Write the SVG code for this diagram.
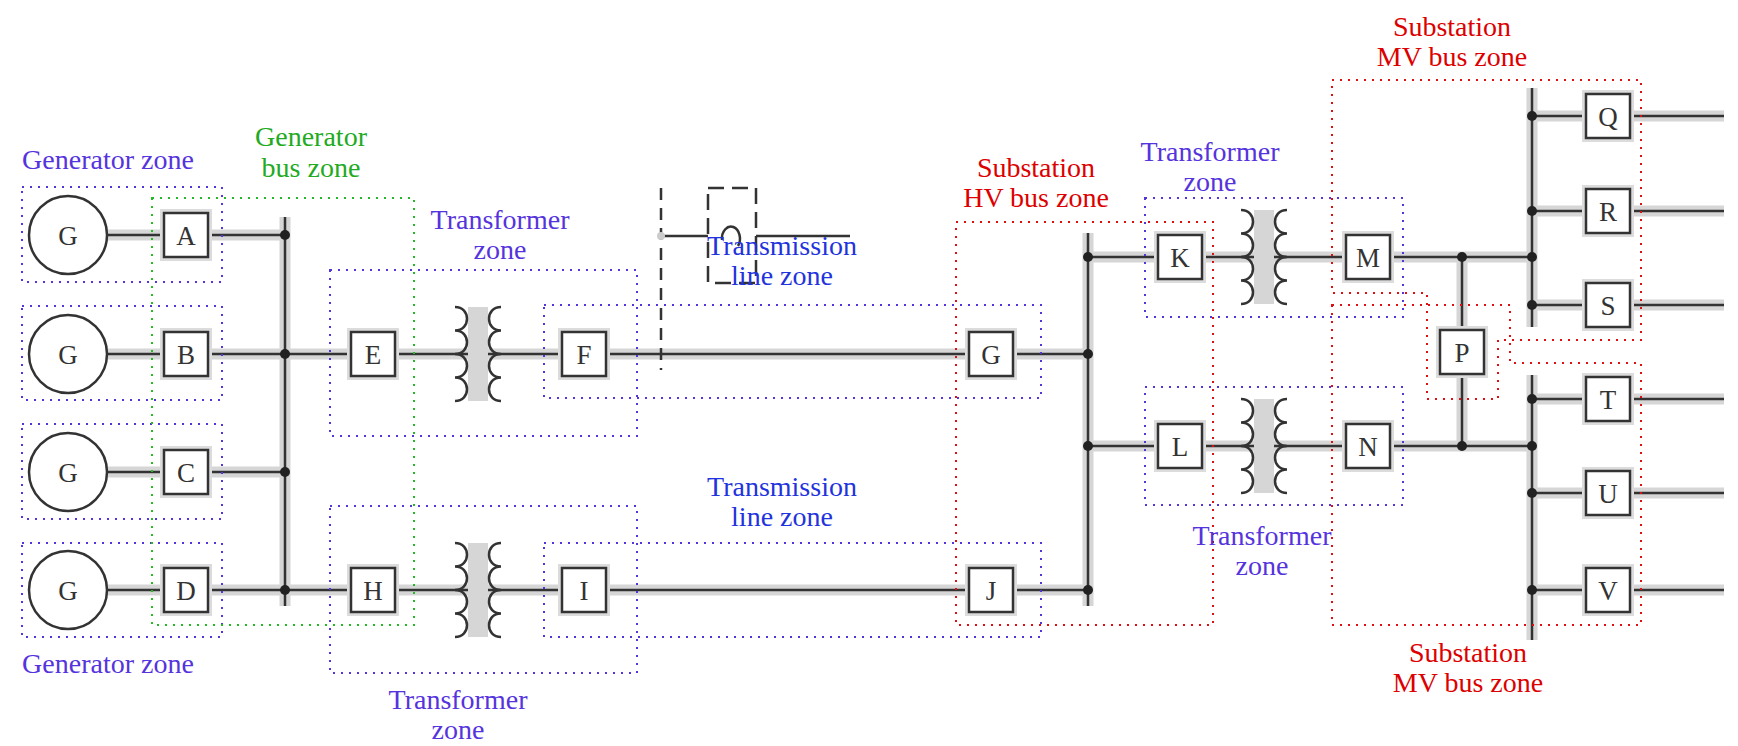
<svg xmlns="http://www.w3.org/2000/svg" width="1738" height="746" viewBox="0 0 1738 746">
<style>
.w{stroke:#333;stroke-width:2.5;fill:none}
.h{stroke:#d6d6d6;stroke-width:11;fill:none}
.bx{fill:#fff;stroke:#333;stroke-width:2.5}
.bh{fill:#dcdcdc}
.t{font-family:"Liberation Serif",serif;font-size:28px;text-anchor:middle}
.lt{font-family:"Liberation Serif",serif;font-size:27px;text-anchor:middle;fill:#333}
.zb{fill:none;stroke:#5533dd;stroke-width:2;stroke-dasharray:2 6}
.zg{fill:none;stroke:#22bb22;stroke-width:2;stroke-dasharray:2 6}
.zr{fill:none;stroke:#dd1111;stroke-width:2;stroke-dasharray:2 6}
.pu{fill:#5533dd}.bl{fill:#2233dd}.gr{fill:#22aa22}.rd{fill:#dd0000}
.dt{fill:#222}
</style>
<defs>
<g id="brk"><rect class="bh" x="-26" y="-26" width="52" height="52"/><rect class="bx" x="-22" y="-22" width="44" height="44"/></g>
<g id="xf">
<rect x="-10" y="-47" width="20" height="94" fill="#d6d6d6"/>
<path class="w" d="M-23,-47 C-7,-47 -7,-23.5 -23,-23.5 C-7,-23.5 -7,0 -23,0 C-7,0 -7,23.5 -23,23.5 C-7,23.5 -7,47 -23,47"/>
<path class="w" d="M23,-47 C7,-47 7,-23.5 23,-23.5 C7,-23.5 7,0 23,0 C7,0 7,23.5 23,23.5 C7,23.5 7,47 23,47"/>
</g>
</defs>

<g id="connectors">
<path class="h" d="M68,354 H1088 M68,590 H1088 M285,217 V606 M1088,233 V606 M1088,446 H1532 M1088,257 H1532 M1532,88 V327 M1532,375 V640 M1462,257 V446 M1532,116 H1724 M1532,211 H1724 M1532,305 H1724 M1532,399 H1724 M1532,493 H1724 M1532,590 H1724 M68,235 H285 M68,472 H285"/>
<path class="w" d="M107,235 H285 M107,354 H1088 M107,472 H285 M107,590 H1088 M285,217 V606 M1088,233 V606 M1088,257 H1532 M1088,446 H1532 M1462,257 V446 M1532,88 V327 M1532,375 V640 M1532,116 H1724 M1532,211 H1724 M1532,305 H1724 M1532,399 H1724 M1532,493 H1724 M1532,590 H1724"/>
<g class="dt">
<circle cx="285" cy="235" r="5"/><circle cx="285" cy="354" r="5"/><circle cx="285" cy="472" r="5"/><circle cx="285" cy="590" r="5"/>
<circle cx="1088" cy="257" r="5"/><circle cx="1088" cy="354" r="5"/><circle cx="1088" cy="446" r="5"/><circle cx="1088" cy="590" r="5"/>
<circle cx="1462" cy="257" r="5"/><circle cx="1462" cy="446" r="5"/>
<circle cx="1532" cy="116" r="5"/><circle cx="1532" cy="211" r="5"/><circle cx="1532" cy="257" r="5"/><circle cx="1532" cy="305" r="5"/>
<circle cx="1532" cy="399" r="5"/><circle cx="1532" cy="446" r="5"/><circle cx="1532" cy="493" r="5"/><circle cx="1532" cy="590" r="5"/>
</g>
<path class="w" d="M661,188 V370" stroke-dasharray="12 8"/>
<rect x="708" y="188" width="48" height="95" fill="none" stroke="#333" stroke-width="2.5" stroke-dasharray="16 8"/>
<path class="w" d="M661,236 H708 M756,236 H850"/>
<circle cx="661" cy="236" r="4" fill="#ccc"/>
<path class="w" d="M722,240 a9,12 0 1 1 16,6" stroke-width="2"/>
</g>

<g id="zones">
<rect class="zb" x="22" y="187" width="200" height="95"/>
<rect class="zb" x="22" y="306" width="200" height="94"/>
<rect class="zb" x="22" y="424" width="200" height="95"/>
<rect class="zb" x="22" y="543" width="200" height="94"/>
<rect class="zg" x="152" y="198" width="262" height="427"/>
<rect class="zb" x="330" y="270" width="307" height="166"/>
<rect class="zb" x="544" y="305" width="497" height="93"/>
<rect class="zb" x="330" y="506" width="307" height="167"/>
<rect class="zb" x="544" y="543" width="497" height="94"/>
<rect class="zr" x="956" y="222" width="257" height="403"/>
<rect class="zb" x="1145" y="198" width="258" height="119"/>
<rect class="zb" x="1145" y="387" width="258" height="118"/>
<path class="zr" d="M1332,80 H1641 V340 H1498 V399 H1427 V293 H1332 Z"/>
<path class="zr" d="M1332,305 H1510 V363 H1641 V625 H1332 Z"/>
</g>

<g id="generators">
<g id="genA"><circle cx="68" cy="235" r="39" fill="#fff" stroke="#333" stroke-width="2.5"/><text class="lt" x="68" y="245">G</text></g>
<g id="genB"><circle cx="68" cy="354" r="39" fill="#fff" stroke="#333" stroke-width="2.5"/><text class="lt" x="68" y="364">G</text></g>
<g id="genC"><circle cx="68" cy="472" r="39" fill="#fff" stroke="#333" stroke-width="2.5"/><text class="lt" x="68" y="482">G</text></g>
<g id="genD"><circle cx="68" cy="590" r="39" fill="#fff" stroke="#333" stroke-width="2.5"/><text class="lt" x="68" y="600">G</text></g>
</g>

<g id="transformers">
<g id="xfEF"><use href="#xf" x="478" y="354"/></g>
<g id="xfHI"><use href="#xf" x="478" y="590"/></g>
<g id="xfKM"><use href="#xf" x="1264" y="257"/></g>
<g id="xfLN"><use href="#xf" x="1264" y="446"/></g>
</g>

<g id="breakers">
<g id="bA"><use href="#brk" x="186" y="235"/><text class="lt" x="186" y="245">A</text></g>
<g id="bB"><use href="#brk" x="186" y="354"/><text class="lt" x="186" y="364">B</text></g>
<g id="bC"><use href="#brk" x="186" y="472"/><text class="lt" x="186" y="482">C</text></g>
<g id="bD"><use href="#brk" x="186" y="590"/><text class="lt" x="186" y="600">D</text></g>
<g id="bE"><use href="#brk" x="373" y="354"/><text class="lt" x="373" y="364">E</text></g>
<g id="bF"><use href="#brk" x="584" y="354"/><text class="lt" x="584" y="364">F</text></g>
<g id="bG"><use href="#brk" x="991" y="354"/><text class="lt" x="991" y="364">G</text></g>
<g id="bH"><use href="#brk" x="373" y="590"/><text class="lt" x="373" y="600">H</text></g>
<g id="bI"><use href="#brk" x="584" y="590"/><text class="lt" x="584" y="600">I</text></g>
<g id="bJ"><use href="#brk" x="991" y="590"/><text class="lt" x="991" y="600">J</text></g>
<g id="bK"><use href="#brk" x="1180" y="257"/><text class="lt" x="1180" y="267">K</text></g>
<g id="bL"><use href="#brk" x="1180" y="446"/><text class="lt" x="1180" y="456">L</text></g>
<g id="bM"><use href="#brk" x="1368" y="257"/><text class="lt" x="1368" y="267">M</text></g>
<g id="bN"><use href="#brk" x="1368" y="446"/><text class="lt" x="1368" y="456">N</text></g>
<g id="bP"><use href="#brk" x="1462" y="352"/><text class="lt" x="1462" y="362">P</text></g>
<g id="bQ"><use href="#brk" x="1608" y="116"/><text class="lt" x="1608" y="126">Q</text></g>
<g id="bR"><use href="#brk" x="1608" y="211"/><text class="lt" x="1608" y="221">R</text></g>
<g id="bS"><use href="#brk" x="1608" y="305"/><text class="lt" x="1608" y="315">S</text></g>
<g id="bT"><use href="#brk" x="1608" y="399"/><text class="lt" x="1608" y="409">T</text></g>
<g id="bU"><use href="#brk" x="1608" y="493"/><text class="lt" x="1608" y="503">U</text></g>
<g id="bV"><use href="#brk" x="1608" y="590"/><text class="lt" x="1608" y="600">V</text></g>
</g>

<g id="labels">
<text class="t pu" x="108" y="169">Generator zone</text>
<text class="t pu" x="108" y="673">Generator zone</text>
<text class="t gr" x="311" y="146">Generator</text><text class="t gr" x="311" y="177">bus zone</text>
<text class="t pu" x="500" y="229">Transformer</text><text class="t pu" x="500" y="259">zone</text>
<text class="t bl" x="782" y="255">Transmission</text><text class="t bl" x="782" y="285">line zone</text>
<text class="t bl" x="782" y="496">Transmission</text><text class="t bl" x="782" y="526">line zone</text>
<text class="t pu" x="458" y="709">Transformer</text><text class="t pu" x="458" y="739">zone</text>
<text class="t rd" x="1036" y="177">Substation</text><text class="t rd" x="1036" y="207">HV bus zone</text>
<text class="t pu" x="1210" y="161">Transformer</text><text class="t pu" x="1210" y="191">zone</text>
<text class="t pu" x="1262" y="545">Transformer</text><text class="t pu" x="1262" y="575">zone</text>
<text class="t rd" x="1452" y="36">Substation</text><text class="t rd" x="1452" y="66">MV bus zone</text>
<text class="t rd" x="1468" y="662">Substation</text><text class="t rd" x="1468" y="692">MV bus zone</text>
</g>
</svg>
